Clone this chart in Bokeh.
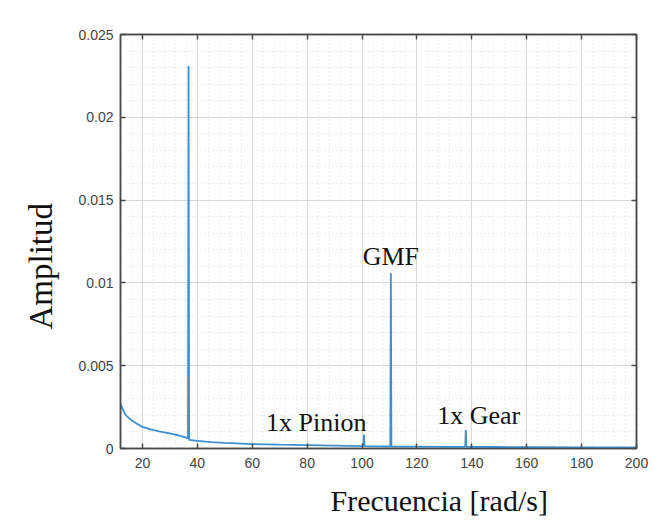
from bokeh.plotting import figure
from bokeh.models import (Range1d, FixedTicker, NumeralTickFormatter, LinearAxis,
                          CustomJSTickFormatter, Label, ColumnDataSource, Title)
from bokeh.embed import file_html
from bokeh.resources import INLINE

# Spectrum (frequency in rad/s, amplitude)
freq = [12, 13, 14, 16, 18, 20, 23, 26, 30, 33, 35, 36.6, 36.8, 37.0, 40, 45, 50, 60, 70, 80, 90,
        100.5, 100.7, 100.9, 110.3, 110.5, 110.7, 120, 130, 137.6, 137.8, 138.0,
        150, 160, 180, 200]
amp = [0.0027, 0.0023, 0.0020, 0.0017, 0.0015, 0.0013, 0.00115, 0.00103, 0.00092, 0.0008,
       0.0007, 0.00062, 0.0231, 0.00052, 0.00046, 0.00039, 0.00034, 0.00027, 0.00023, 0.0002, 0.00017,
       0.00014, 0.00085, 0.00014, 0.00012, 0.0106, 0.00012, 0.00011, 0.0001, 0.0001, 0.00112,
       0.0001, 0.00009, 0.00008, 0.00007, 0.00006]

x_ticks = [20, 40, 60, 80, 100, 120, 140, 160, 180, 200]
x_minor = [12 + 4 * i for i in range(48)]
y_ticks = [0, 0.005, 0.01, 0.015, 0.02, 0.025]
y_minor = [0.001 * i for i in range(26)]

annotations = [("GMF", 110.5, 0.01162), ("1x Pinion", 83.3, 0.00156), ("1x Gear", 142.5, 0.00199)]

W, H = 656, 528
p = figure(width=W, height=H, output_backend="svg", toolbar_location=None,
           x_range=Range1d(12, 200), y_range=Range1d(0, 0.025),
           min_border_left=120, min_border_right=20, min_border_top=34, min_border_bottom=79)
p.background_fill_color = "white"
p.border_fill_color = "white"
p.outline_line_color = "#4a4a4a"
p.outline_line_width = 1.5

src = ColumnDataSource(dict(f=freq, a=amp))
p.line("f", "a", source=src, line_color="#3d8fd1", line_width=1.8)

xt = FixedTicker(ticks=x_ticks, minor_ticks=x_minor)
yt = FixedTicker(ticks=y_ticks, minor_ticks=y_minor)

for ax in p.xaxis:
    ax.ticker = xt
for ax in p.yaxis:
    ax.ticker = yt
    ax.formatter = NumeralTickFormatter(format="0.[000]")

for ax in list(p.xaxis) + list(p.yaxis):
    ax.axis_line_color = "#4a4a4a"
    ax.axis_line_width = 1.5
    ax.major_tick_line_color = "#4a4a4a"
    ax.major_tick_line_width = 1.5
    ax.major_tick_in = 5
    ax.major_tick_out = 0
    ax.minor_tick_in = 0
    ax.minor_tick_out = 0
    ax.major_label_text_font = "Liberation Sans"
    ax.major_label_text_font_size = "14px"
    ax.major_label_text_color = "#444444"
p.xaxis.major_label_standoff = 9
p.yaxis.major_label_standoff = 7

empty = CustomJSTickFormatter(code="return ''")
top = LinearAxis(ticker=xt, formatter=empty)
right = LinearAxis(ticker=yt, formatter=empty)
for ax in (top, right):
    ax.axis_line_color = "#4a4a4a"
    ax.axis_line_width = 1.5
    ax.major_tick_line_color = "#4a4a4a"
    ax.major_tick_line_width = 1.5
    ax.major_tick_in = 5
    ax.major_tick_out = 0
    ax.minor_tick_in = 0
    ax.minor_tick_out = 0
    ax.major_label_standoff = 0
p.add_layout(top, "above")
p.add_layout(right, "right")

for g in (p.xgrid[0], p.ygrid[0]):
    g.grid_line_color = "#d8d8d8"
    g.grid_line_width = 1
    g.minor_grid_line_color = "#dedede"
    g.minor_grid_line_dash = "1 3"
    g.minor_grid_line_width = 1
p.xgrid[0].ticker = xt
p.ygrid[0].ticker = yt

for txt, xx, yy in annotations:
    p.add_layout(Label(x=xx, y=yy, text=txt, text_font="Liberation Serif",
                       text_font_size="26px", text_align="center",
                       text_baseline="alphabetic", text_color="#111111"))

xlab = Title(text="Frecuencia [rad/s]", align="left", offset=210, text_font="Liberation Serif",
             text_font_size="30px", text_font_style="normal", text_color="#111111", standoff=23)
p.add_layout(xlab, "below")
ylab = Title(text="Amplitud", align="left", offset=119, text_font="Liberation Serif",
             text_font_size="33px", text_font_style="normal", text_color="#111111", standoff=34)
p.add_layout(ylab, "left")

open("out.html", "w").write(file_html(p, INLINE))
